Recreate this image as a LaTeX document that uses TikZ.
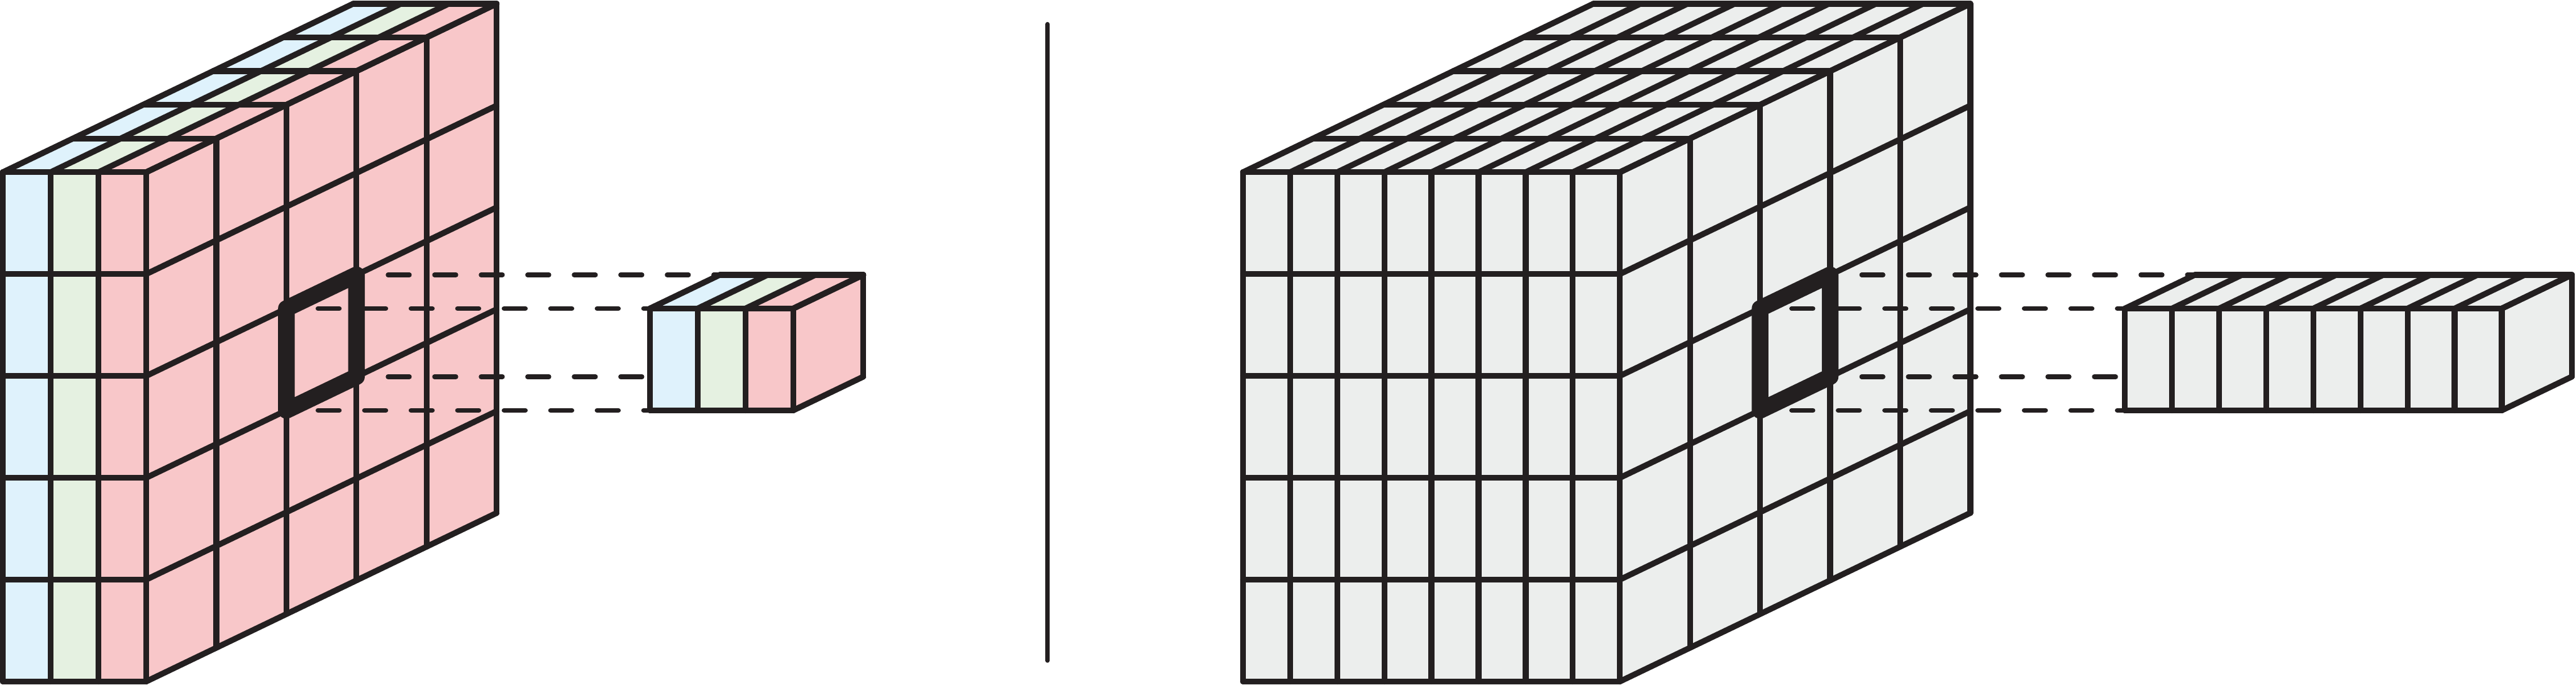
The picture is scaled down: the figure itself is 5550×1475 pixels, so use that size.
\documentclass[tikz,border=0pt]{standalone}
\usetikzlibrary{calc}
\definecolor{cblue}{HTML}{DFF2FC}
\definecolor{cgreen}{HTML}{E5F1E1}
\definecolor{cpink}{HTML}{F8C7C9}
\definecolor{cgray}{HTML}{ECEEED}
\definecolor{cline}{HTML}{231F20}
\tikzset{
  ln/.style={draw=cline, line width=3.56pt, line cap=round, line join=round},
  boldsq/.style={draw=cline, line width=10.2pt, line join=round, line cap=round},
  dashln/.style={draw=cline, line width=2.85pt, line cap=round, dash pattern=on 13.1pt off 15.4pt},
  sepln/.style={draw=cline, line width=2.65pt, line cap=round}
}
% #1 X0, #2 Y0, #3 slice width, #4 nslices, #5 nrows, #6 ndepth, #7 side colour, #8 slice colours
\newcommand\drawcube[8]{%
  \pgfmathsetmacro\cbXR{#1+#4*#3}%
  \pgfmathsetmacro\cbYB{#2+#5*219.4}%
  \pgfmathsetmacro\cbDX{#6*151}%
  \pgfmathsetmacro\cbDY{#6*(-72.6)}%
  \pgfmathsetmacro\cbH{#5*219.4}%
  \foreach \cc [count=\i from 0] in {#8}{%
    \fill[\cc] (#1+\i*#3,#2) rectangle (#1+\i*#3+#3,\cbYB);
    \fill[\cc] (#1+\i*#3,#2) -- ++(#3,0) -- ++(\cbDX,\cbDY) -- ++(-#3,0) -- cycle;
  }%
  \fill[#7] (\cbXR,#2) -- (\cbXR,\cbYB) -- ++(\cbDX,\cbDY) -- ++(0,-\cbH) -- cycle;
  \foreach \i in {0,...,#4}{%
    \draw[ln] (#1+\i*#3,#2) -- (#1+\i*#3,\cbYB);
    \draw[ln] (#1+\i*#3,#2) -- ++(\cbDX,\cbDY);
  }%
  \foreach \r in {0,...,#5}{%
    \draw[ln] (#1,#2+\r*219.4) -- (\cbXR,#2+\r*219.4);
    \draw[ln] (\cbXR,#2+\r*219.4) -- ++(\cbDX,\cbDY);
  }%
  \foreach \k in {0,...,#6}{%
    \draw[ln] (#1+\k*151,#2+\k*-72.6) -- (\cbXR+\k*151,#2+\k*-72.6);
    \draw[ln] (\cbXR+\k*151,#2+\k*-72.6) -- ++(0,\cbH);
  }%
}
\begin{document}
\begin{tikzpicture}[x=0.01cm, y=-0.01cm]
\useasboundingbox (0,0) rectangle (5550,1475);
% left big block
\drawcube{6}{371}{103}{3}{5}{5}{cpink}{cblue,cgreen,cpink}
% left small block
\drawcube{1400}{664.6}{103}{3}{1}{1}{cpink}{cblue,cgreen,cpink}
% right big block
\drawcube{2678}{371}{101.5}{8}{5}{5}{cgray}{cgray,cgray,cgray,cgray,cgray,cgray,cgray,cgray}
% right small block
\drawcube{4578}{664.6}{101.5}{8}{1}{1}{cgray}{cgray,cgray,cgray,cgray,cgray,cgray,cgray,cgray}

% key points
\coordinate (LA) at (617,664.6);
\coordinate (LB) at (768,592);
\coordinate (LC) at (768,811.4);
\coordinate (LE) at (617,884);
\coordinate (sLtop) at (1551,592);
\coordinate (sLftl) at (1400,664.6);
\coordinate (sLmid) at (1400,811.4);
\coordinate (sLfbl) at (1400,884);
\coordinate (RA) at (3792,664.6);
\coordinate (RB) at (3943,592);
\coordinate (RC) at (3943,811.4);
\coordinate (RE) at (3792,884);
\coordinate (sRtop) at (4729,592);
\coordinate (sRftl) at (4578,664.6);
\coordinate (sRmid) at (4578,811.4);
\coordinate (sRfbl) at (4578,884);
\coordinate (sepT) at (2257,52);
\coordinate (sepB) at (2257,1423);

% bold windows
\draw[boldsq] (LA) -- (LB) -- (LC) -- (LE) -- cycle;
\draw[boldsq] (RA) -- (RB) -- (RC) -- (RE) -- cycle;

% dashed projections
\draw[dashln] ($(LB)+(68,0)$) -- (sLtop);
\draw[dashln] ($(LA)+(68,0)$) -- (sLftl);
\draw[dashln] ($(LC)+(68,0)$) -- (sLmid);
\draw[dashln] ($(LE)+(68,0)$) -- (sLfbl);
\draw[dashln] ($(RB)+(68,0)$) -- (sRtop);
\draw[dashln] ($(RA)+(68,0)$) -- (sRftl);
\draw[dashln] ($(RC)+(68,0)$) -- (sRmid);
\draw[dashln] ($(RE)+(68,0)$) -- (sRfbl);

% separator
\draw[sepln] (sepT) -- (sepB);
\end{tikzpicture}
\end{document}
